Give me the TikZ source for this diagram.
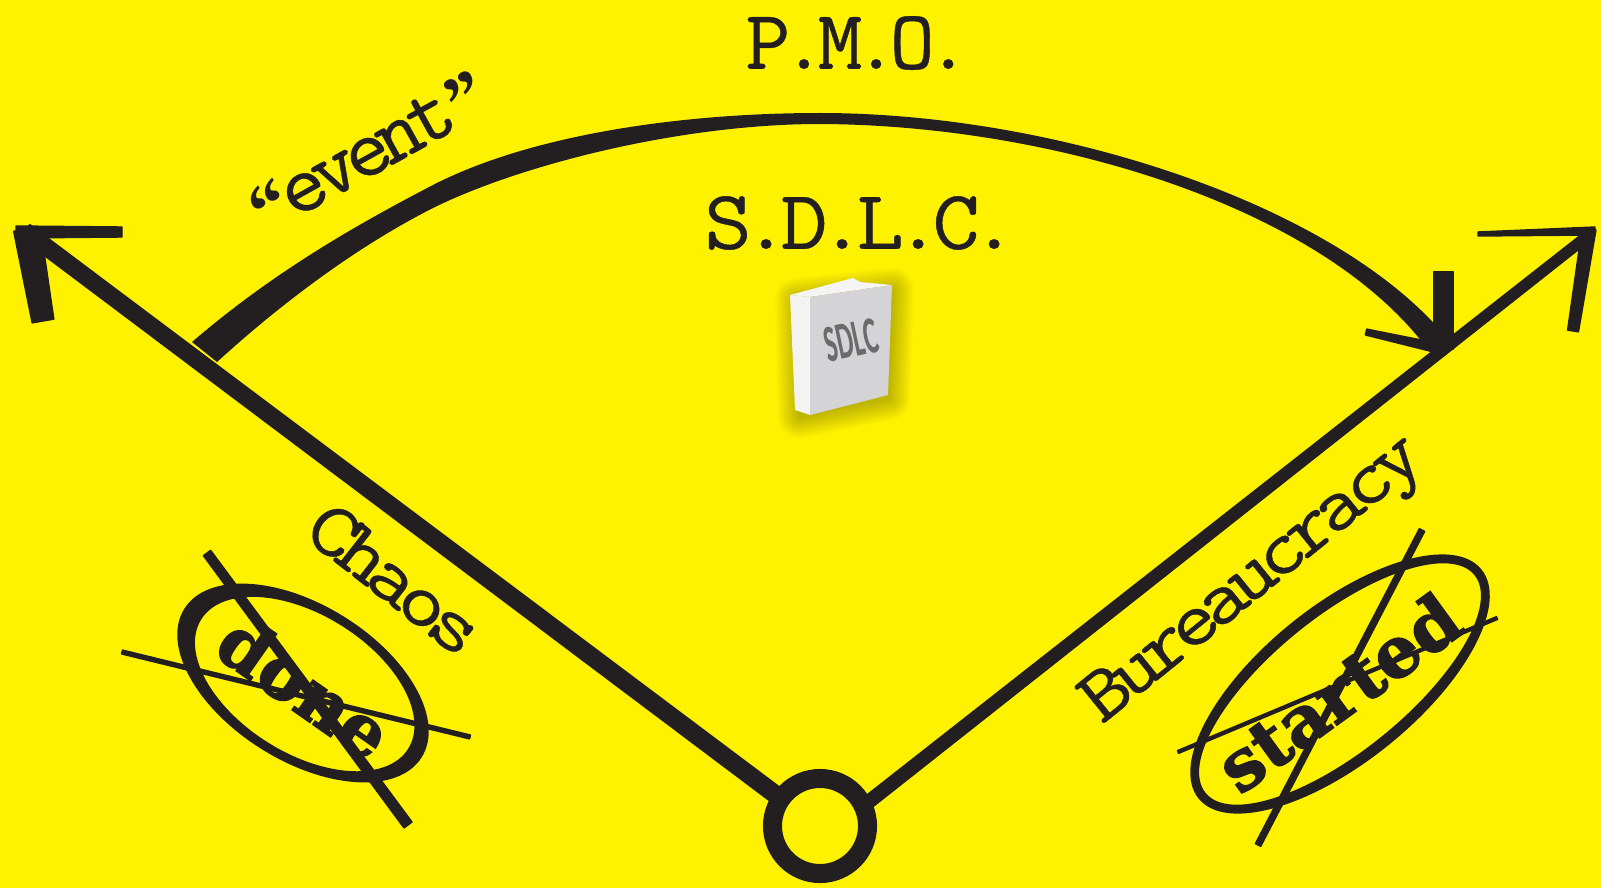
\documentclass[tikz,border=0pt]{standalone}
\usepackage{fontspec}
\usepackage{xcolor}
\usetikzlibrary{calc}
\newfontfamily\typefont[FakeBold=0.5,LetterSpace=-10]{Latin Modern Mono}
\newfontfamily\stampfont[FakeBold=2]{DejaVu Serif Bold}
\newfontfamily\quotefont{Liberation Serif Bold}
\newfontfamily\bookfont{Carlito}
\definecolor{signyellow}{HTML}{FFF200}
\definecolor{ink}{HTML}{231F20}
\newcommand{\taper}[4]{\fill[ink,draw=ink,line width=0.4pt,line join=round] ($(#1)!#3!90:(#2)$) -- ($(#2)!#4!-90:(#1)$) -- ($(#2)!#4!90:(#1)$) -- ($(#1)!#3!-90:(#2)$) -- cycle;}
\tikzset{
  typetext/.style={text=ink,inner sep=0pt,transform shape,font=\typefont\fontsize{#1}{#1}\selectfont},
  stamptext/.style={text=ink,inner sep=0pt,font=\stampfont\fontsize{20}{20}\selectfont}
}

\begin{document}
\begin{tikzpicture}[x=0.01cm,y=-0.01cm]

      \fill[signyellow] (0,0) rectangle (1601,888);
      \useasboundingbox (0,0) rectangle (1601,888);

      \node[circle,draw=ink,line width=0.19cm,minimum size=0.95cm,inner sep=0pt] (origin) at (820,826) {};
      \coordinate (chaosroot) at ($(origin)!0.85!(origin.145)$);
      \coordinate (bureauroot) at ($(origin)!0.85!(origin.25)$);
      \coordinate (chaostip) at (25,231);
      \coordinate (chaoshookroot) at (16,232);
      \coordinate (chaoshook) at (122,232);
      \coordinate (chaosbarbroot) at (27,229);
      \coordinate (chaosbarb) at (43,321);
      \coordinate (bureautip) at (1585,238);
      \coordinate (bureauhookroot) at (1595,231);
      \coordinate (bureauhook) at (1478,234);
      \coordinate (bureaubarbroot) at (1589,229);
      \coordinate (bureaubarb) at (1573,331);
      \coordinate (arctip) at (1446,350);
      \coordinate (arcbase) at (1443.5,349);
      \coordinate (arcbar) at (1443.5,272);
      \coordinate (arcbarb) at (1366,332);

      \taper{chaosroot}{chaostip}{0.85mm}{0.8mm}
      \taper{chaoshookroot}{chaoshook}{0.6mm}{0.5mm}
      \taper{chaosbarbroot}{chaosbarb}{1.35mm}{1.1mm}
      \taper{bureauroot}{bureautip}{0.65mm}{0.5mm}
      \taper{bureauhookroot}{bureauhook}{0.4mm}{0.2mm}
      \taper{bureaubarbroot}{bureaubarb}{0.7mm}{0.55mm}
      \taper{arcbase}{arcbar}{1mm}{1mm}
      \taper{arctip}{arcbarb}{0.5mm}{0.3mm}

      \fill[ink] (192,342) .. controls (270,275) and (350,228) .. (433,185)
        .. controls (530,135) and (680,113) .. (820,113)
        .. controls (1050,113) and (1325,200) .. (1440,330) -- (1448,348)
        -- (1426,347) .. controls (1318,205) and (1050,125) .. (820,124)
        .. controls (680,124) and (520,165) .. (433,208)
        .. controls (360,245) and (285,300) .. (217,362) -- cycle;

      \foreach \w in {44,40,...,4}
        \draw[black,opacity=0.022,line width=\w*0.01cm,line join=round] (797,300) -- (892,290) -- (888,398) -- (800,416) -- cycle;
      \fill[black!4!white] (790,295) -- (853,278) -- (860,282) -- (892,285) -- (810,297) -- cycle;
      \fill[yellow!14!black!6!white] (790,295) -- (810,297) -- (810,415) -- (795,410) -- cycle;
      \fill[blue!8!black!17!white] (810,297) -- (892,285) -- (888,395) -- (810,415) -- cycle;
      \node[text=black!58,inner sep=0pt,rotate=12,xscale=0.5,transform shape,font=\bookfont\bfseries\fontsize{15}{15}\selectfont] (booklabel) at (851,340) {SDLC};

      \node[typetext=24,xscale=1.03] (pmo) at (858,43) {P.M.O.};
      \node[typetext=24,xscale=1.085] (sdlc) at (861,223) {S.D.L.C.};
      \node[typetext=24,rotate=29,xscale=1.04] (event) at (368,152) {{\quotefont\fontsize{20}{20}\selectfont “\kern-0.05em}event{\quotefont\fontsize{20}{20}\selectfont ”}};
      \node[typetext=22,rotate=-38,xscale=1.2] (chaos) at (395,579) {Chaos};
      \node[typetext=22,rotate=39,xscale=1.16] (bureau) at (1255,582) {Bureaucracy};

      \coordinate (doneupper) at (207,553);
      \coordinate (donelower) at (408,825);
      \coordinate (doneleft) at (122,652);
      \coordinate (doneright) at (470,737);
      \taper{doneupper}{donelower}{0.45mm}{0.5mm}
      \taper{doneleft}{doneright}{0.2mm}{0.2mm}
      \begin{scope}[shift={(303,683)},rotate=-32]
        \fill[ink,even odd rule] (0,0) ellipse [x radius=140,y radius=78] (2,0) ellipse [x radius=122,y radius=69];
      \end{scope}
      \node[stamptext,rotate=-35] (done) at (305,687) {done};

      \coordinate (startupper) at (1422,530);
      \coordinate (startlower) at (1258,845);
      \coordinate (startleft) at (1178,752);
      \coordinate (startright) at (1497,618);
      \taper{startupper}{startlower}{0.3mm}{0.3mm}
      \taper{startleft}{startright}{0.15mm}{0.15mm}
      \begin{scope}[shift={(1340,684)},rotate=39]
        \fill[ink,even odd rule] (0,0) ellipse [x radius=182,y radius=78] (0,0) ellipse [x radius=173,y radius=67];
      \end{scope}
      \node[stamptext,rotate=36] (started) at (1338,692) {started};

    \end{tikzpicture}
\end{document}
